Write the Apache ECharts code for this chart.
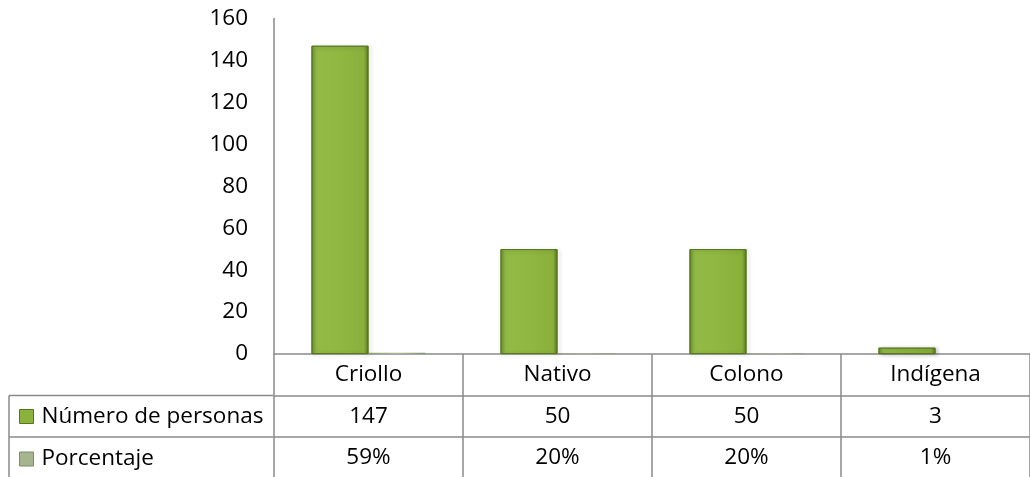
<!DOCTYPE html>
<html>
<head>
<meta charset="utf-8">
<script src="https://cdn.jsdelivr.net/npm/echarts@6/dist/echarts.min.js"></script>
<style>
html,body{margin:0;padding:0;background:#fff;}
#main{width:1030px;height:477px;}
</style>
</head>
<body>
<div id="main"></div>
<script>
var categories = ['Criollo', 'Nativo', 'Colono', 'Indígena'];
var personas = [147, 50, 50, 3];
var porcentaje = [59, 20, 20, 1];
var seriesNames = ['Número de personas', 'Porcentaje'];
var yTicks = {min: 0, max: 160, interval: 20};

var FONT = 'Open Sans';
var FS = 22.5;
var LINE = '#8a8a8a';
var ROW = 41.5;

var greenGrad = new echarts.graphic.LinearGradient(0, 0, 1, 0, [
  {offset: 0, color: '#6c8f2c'},
  {offset: 0.08, color: '#92ba46'},
  {offset: 0.5, color: '#8fb741'},
  {offset: 0.92, color: '#89b03b'},
  {offset: 1, color: '#5b7a1f'}
]);
var greyGrad = new echarts.graphic.LinearGradient(0, 0, 1, 0, [
  {offset: 0, color: '#8d9d75'},
  {offset: 0.5, color: '#a9b993'},
  {offset: 1, color: '#849470'}
]);

var chart = echarts.init(document.getElementById('main'), null, {renderer: 'canvas'});

function rowAxis(data, offset, showLine) {
  return {
    type: 'category',
    gridIndex: 0,
    position: 'bottom',
    offset: offset,
    data: data,
    axisLine: {show: showLine, lineStyle: {color: LINE, width: 1.5}},
    axisTick: {show: false},
    axisLabel: {
      interval: 0,
      margin: ROW / 2,
      verticalAlign: 'middle',
      color: '#000',
      fontFamily: FONT,
      fontSize: FS
    }
  };
}

var option = {
  animation: false,
  textStyle: {fontFamily: FONT},
  grid: {left: 274, top: 18.5, width: 764, height: 335.5, containLabel: false},
  legend: {
    orient: 'vertical',
    left: 19,
    top: 405,
    padding: 0,
    itemGap: ROW - 22,
    itemWidth: 14,
    itemHeight: 14,
    icon: 'rect',
    selectedMode: false,
    textStyle: {fontFamily: FONT, fontSize: FS, color: '#000', lineHeight: 22, padding: [0, 0, 0, 3]},
    data: [
      {name: seriesNames[0], itemStyle: {color: '#8bb23d', borderColor: '#56741c', borderWidth: 1}},
      {name: seriesNames[1], itemStyle: {color: '#a5b58e', borderColor: '#7d8c67', borderWidth: 1}}
    ]
  },
  xAxis: [
    {
      type: 'category',
      gridIndex: 0,
      position: 'bottom',
      data: categories,
      axisLine: {show: true, lineStyle: {color: LINE, width: 1.5}},
      axisTick: {show: true, interval: 0, length: ROW * 3 + 2, lineStyle: {color: LINE, width: 1.5}},
      axisLabel: {
        interval: 0,
        margin: ROW / 2,
        verticalAlign: 'middle',
        color: '#000',
        fontFamily: FONT,
        fontSize: FS
      }
    },
    rowAxis(personas.map(String), ROW, true),
    rowAxis(porcentaje.map(function (v) { return v + '%'; }), ROW * 2, true)
  ],
  yAxis: {
    type: 'value',
    min: yTicks.min,
    max: yTicks.max,
    interval: yTicks.interval,
    axisLine: {show: true, lineStyle: {color: LINE, width: 1.5}},
    axisTick: {show: false},
    splitLine: {show: false},
    axisLabel: {margin: 26, color: '#000', fontFamily: FONT, fontSize: FS}
  },
  series: [
    {
      name: seriesNames[0],
      type: 'bar',
      xAxisIndex: 0,
      data: personas,
      barWidth: 57,
      barGap: '0%',
      itemStyle: {
        color: greenGrad,
        borderColor: '#56741c',
        borderWidth: 0.8,
        shadowBlur: 4,
        shadowColor: 'rgba(0,0,0,0.25)',
        shadowOffsetX: 2,
        shadowOffsetY: 1
      }
    },
    {
      name: seriesNames[1],
      type: 'bar',
      xAxisIndex: 0,
      data: porcentaje.map(function (v) { return v / 100; }),
      barWidth: 57,
      barGap: '0%',
      itemStyle: {color: greyGrad}
    }
  ]
};

chart.setOption(option);

var y0 = chart.convertToPixel({yAxisIndex: 0}, 0);
var xLeft = chart.convertToPixel({xAxisIndex: 0}, 0) - 764 / 8;
var r1 = y0 + ROW, r2 = y0 + ROW * 2, r3 = y0 + ROW * 3 + 2;
var ls = {stroke: LINE, lineWidth: 1.5};
chart.setOption({
  graphic: [
    {type: 'line', shape: {x1: 9, y1: r1, x2: xLeft, y2: r1}, style: ls, silent: true},
    {type: 'line', shape: {x1: 9, y1: r2, x2: xLeft, y2: r2}, style: ls, silent: true},
    {type: 'line', shape: {x1: 9, y1: r1, x2: 9, y2: r3}, style: ls, silent: true}
  ]
});
</script>
</body>
</html>
